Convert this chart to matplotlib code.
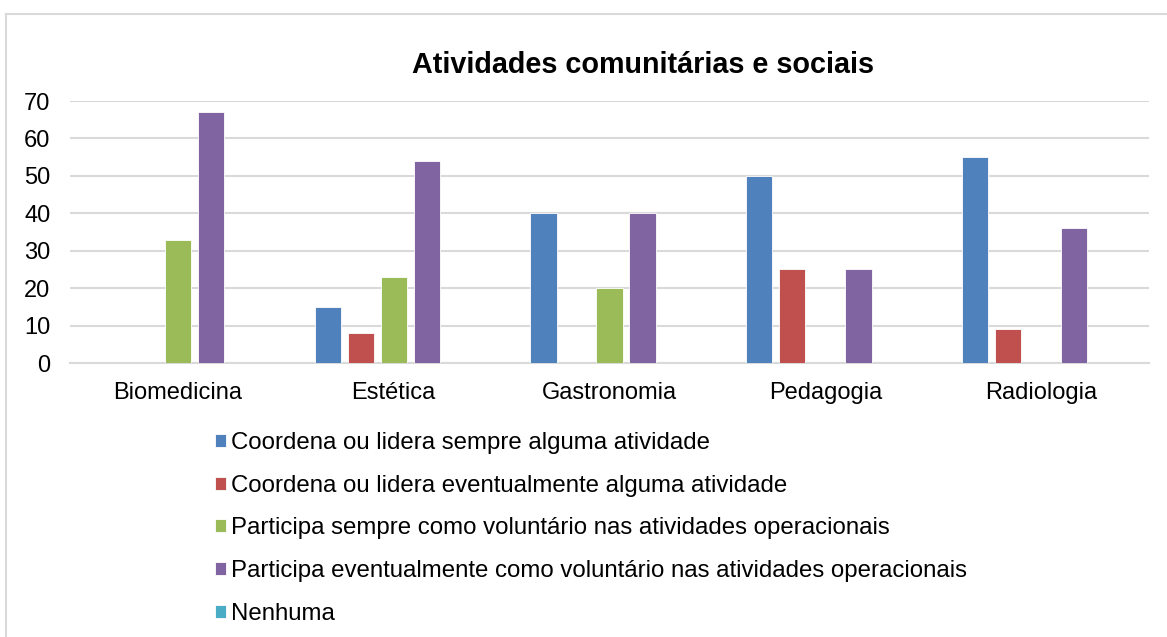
import matplotlib.pyplot as plt
import numpy as np

plt.rcParams['font.family'] = ['Liberation Sans', 'DejaVu Sans']

cursos = ['Biomedicina', 'Estética', 'Gastronomia', 'Pedagogia', 'Radiologia']
series = ['Coordena ou lidera sempre alguma atividade',
          'Coordena ou lidera eventualmente alguma atividade',
          'Participa sempre como voluntário nas atividades operacionais',
          'Participa eventualmente como voluntário nas atividades operacionais',
          'Nenhuma']
lidera_sempre = [0, 15, 40, 50, 55]
lidera_eventual = [0, 8, 0, 25, 9]
voluntario_sempre = [33, 23, 20, 0, 0]
voluntario_eventual = [67, 54, 40, 25, 36]
nenhuma = [0, 0, 0, 0, 0]
valores = [lidera_sempre, lidera_eventual, voluntario_sempre, voluntario_eventual, nenhuma]
cores = ['#4F81BD', '#C0504D', '#9BBB59', '#8064A2', '#4BACC6']

fig = plt.figure(figsize=(11.67, 6.37), dpi=100)
ax = fig.add_axes([0.060, 0.4301, 0.9246, 0.4113])

x = np.arange(len(cursos))
passo = 0.153
for i, (vals, nome, cor) in enumerate(zip(valores, series, cores)):
    ax.bar(x + (i - 2) * passo, vals, width=0.122, color=cor, label=nome,
           edgecolor='white', linewidth=0.6, zorder=3)

ax.set_xlim(-0.5, 4.5)
ax.set_ylim(0, 70)
ax.set_yticks(range(0, 71, 10))
ax.set_xticks(x)
ax.set_xticklabels(cursos)
ax.tick_params(axis='both', length=0, labelsize=17)
ax.tick_params(axis='x', pad=14)
ax.tick_params(axis='y', pad=14)
ax.grid(axis='y', color='#D9D9D9', linewidth=1.5, zorder=0)
for s in ['top', 'right', 'left']:
    ax.spines[s].set_visible(False)
ax.spines['bottom'].set_color('#D9D9D9')
ax.spines['bottom'].set_linewidth(1.5)

fig.text(0.551, 0.898, 'Atividades comunitárias e sociais', ha='center', va='center',
         fontsize=20.7, fontweight='bold')

fig.legend(loc='upper left', bbox_to_anchor=(0.176, 0.337), frameon=False,
           fontsize=17.3, handlelength=0.46, handleheight=0.46, handletextpad=0.2,
           labelspacing=0.86, borderaxespad=0)

# moldura do gráfico
fig.add_artist(plt.Line2D([0.0055, 0.0055], [0, 0.978], color='#D9D9D9', lw=1.5))
fig.add_artist(plt.Line2D([0.0055, 1.0], [0.978, 0.978], color='#D9D9D9', lw=1.5))

fig.savefig('out.png', dpi=100)
